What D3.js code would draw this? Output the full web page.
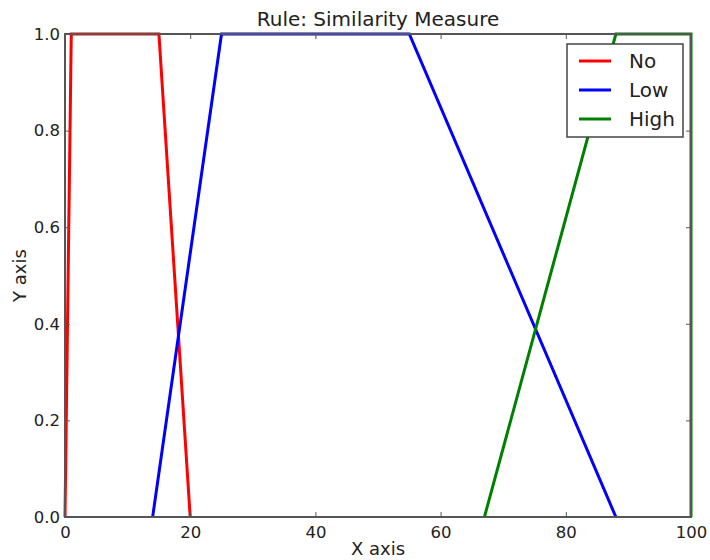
<!DOCTYPE html>
<html>
<head>
<meta charset="utf-8">
<script src="https://cdn.jsdelivr.net/npm/d3@7"></script>
<style>
  body { margin: 0; background: #fff; }
  text { font-family: "DejaVu Sans", sans-serif; fill: #222; }
</style>
</head>
<body>
<svg id="chart"></svg>
<script>
// membership functions, [x, y] corner points
const seriesNames = ["No", "Low", "High"];
const seriesColors = ["#ff0000", "#0000ff", "#008000"];
const noPoints = [[0, 0], [1, 1], [15, 1], [20, 0]];
const lowPoints = [[14, 0], [25, 1], [55, 1], [88, 0]];
const highPoints = [[67, 0], [88, 1], [100, 1], [100, 0]];
const xTicks = [0, 20, 40, 60, 80, 100];
const yTicks = [0, 0.2, 0.4, 0.6, 0.8, 1.0];

const config = {
  width: 710, height: 560,
  margin: { top: 34, right: 19, bottom: 43, left: 65 }
};
const w = config.width - config.margin.left - config.margin.right;
const h = config.height - config.margin.top - config.margin.bottom;

const svg = d3.select("#chart")
  .attr("width", config.width)
  .attr("height", config.height);

const chart = svg.append("g")
  .attr("transform", `translate(${config.margin.left},${config.margin.top})`);

const x = d3.scaleLinear().domain([0, 100]).range([0, w]);
const y = d3.scaleLinear().domain([0, 1]).range([h, 0]);

// lines
const line = d3.line().x(d => x(d[0])).y(d => y(d[1]));
const allSeries = [noPoints, lowPoints, highPoints];
chart.selectAll(".series")
  .data(allSeries)
  .join("path")
  .attr("class", "series")
  .attr("fill", "none")
  .attr("stroke", (d, i) => seriesColors[i])
  .attr("stroke-width", 3)
  .attr("d", line);

// axes, matplotlib style with inward ticks on all sides
const tickLen = 5;
const xAxisB = chart.append("g").attr("transform", `translate(0,${h})`)
  .call(d3.axisBottom(x).tickValues(xTicks).tickSize(-tickLen).tickPadding(9).tickFormat(d3.format("d")));
const xAxisT = chart.append("g")
  .call(d3.axisTop(x).tickValues(xTicks).tickSize(-tickLen).tickFormat(""));
const yAxisL = chart.append("g")
  .call(d3.axisLeft(y).tickValues(yTicks).tickSize(-tickLen).tickPadding(5).tickFormat(d3.format(".1f")));
const yAxisR = chart.append("g").attr("transform", `translate(${w},0)`)
  .call(d3.axisRight(y).tickValues(yTicks).tickSize(-tickLen).tickFormat(""));

[xAxisB, xAxisT, yAxisL, yAxisR].forEach(g => {
  g.select(".domain").remove();
  g.selectAll(".tick line").attr("stroke", "#555");
  g.selectAll(".tick text").style("font-size", "16.5px").attr("fill", "#222");
});

// frame
chart.append("rect")
  .attr("width", w).attr("height", h)
  .attr("fill", "none").attr("stroke", "#555").attr("stroke-width", 2);

// titles
svg.append("text")
  .attr("x", config.margin.left + w / 2).attr("y", 26)
  .attr("text-anchor", "middle").style("font-size", "20px")
  .text("Rule: Similarity Measure");

svg.append("text")
  .attr("x", config.margin.left + w / 2).attr("y", 555)
  .attr("text-anchor", "middle").style("font-size", "18px")
  .text("X axis");

svg.append("text")
  .attr("transform", `translate(26,${config.margin.top + h / 2}) rotate(-90)`)
  .attr("text-anchor", "middle").style("font-size", "18px")
  .text("Y axis");

// legend
const legend = svg.append("g").attr("transform", "translate(567,44)");
legend.append("rect")
  .attr("width", 116).attr("height", 93)
  .attr("fill", "#fff").attr("stroke", "#444").attr("stroke-width", 1.5);

const rows = legend.selectAll(".row")
  .data(seriesNames)
  .join("g")
  .attr("class", "row")
  .attr("transform", (d, i) => `translate(0,${17 + i * 29})`);

rows.append("line")
  .attr("x1", 12).attr("x2", 44)
  .attr("stroke", (d, i) => seriesColors[i])
  .attr("stroke-width", 3);

rows.append("text")
  .attr("x", 62).attr("dy", "0.35em")
  .style("font-size", "20px")
  .text(d => d);
</script>
</body>
</html>
